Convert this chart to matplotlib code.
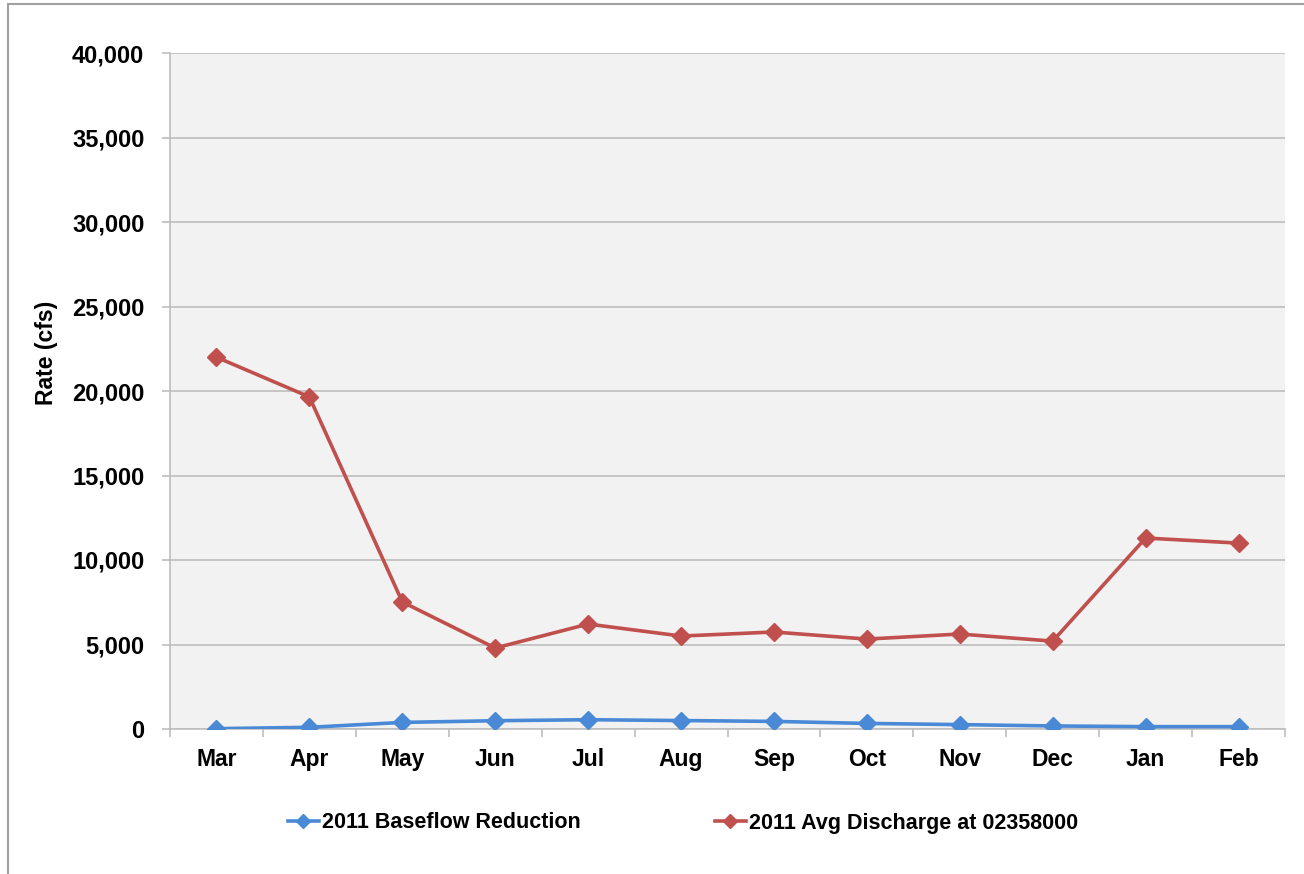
import matplotlib
matplotlib.use("Agg")
import matplotlib.pyplot as plt
from matplotlib.patches import Rectangle
from matplotlib.ticker import FuncFormatter

months = ["Mar", "Apr", "May", "Jun", "Jul", "Aug", "Sep", "Oct", "Nov", "Dec", "Jan", "Feb"]
baseflow_reduction = [20, 100, 390, 490, 550, 500, 450, 330, 260, 180, 140, 140]
avg_discharge = [22000, 19650, 7520, 4790, 6210, 5500, 5740, 5320, 5620, 5200, 11300, 11000]
series_names = ["2011 Baseflow Reduction", "2011 Avg Discharge at 02358000"]
y_ticks = [0, 5000, 10000, 15000, 20000, 25000, 30000, 35000, 40000]

plt.rcParams['font.family'] = ['Liberation Sans', 'DejaVu Sans']
plt.rcParams['font.weight'] = 'bold'

W, H = 1304, 874
fig = plt.figure(figsize=(W / 100, H / 100), dpi=100)
fig.patch.set_facecolor('white')

ax = fig.add_axes([170 / W, 1 - 729 / H, (1285 - 170) / W, (729 - 53) / H])
ax.set_facecolor('#F2F2F2')

x = list(range(len(months)))
blue = '#4A89D6'
red = '#C0504D'
l1, = ax.plot(x, baseflow_reduction, color=blue, lw=2.6, marker='D', ms=9.5,
              markeredgecolor=blue, zorder=3)
l2, = ax.plot(x, avg_discharge, color=red, lw=2.6, marker='D', ms=9.5,
              markeredgecolor=red, zorder=3)

ax.set_xlim(-0.5, len(months) - 0.5)
ax.set_ylim(0, 40000)
ax.set_yticks(y_ticks)
ax.yaxis.set_major_formatter(FuncFormatter(lambda v, p: f"{int(v):,}"))
ax.set_xticks(x)
ax.set_xticklabels(months)
ax.set_xticks([i - 0.5 for i in range(len(months) + 1)], minor=True)

ax.grid(axis='y', color='#BEBEBE', lw=1.2, zorder=1)
ax.set_axisbelow(True)

for s in ['top', 'right']:
    ax.spines[s].set_visible(False)
for s in ['left', 'bottom']:
    ax.spines[s].set_color('#BEBEBE')
    ax.spines[s].set_linewidth(1.2)

ax.tick_params(axis='x', which='major', length=0, pad=14, labelsize=16.5, colors='#000000')
ax.tick_params(axis='x', which='minor', length=6, width=1.2, color='#BEBEBE', direction='out')
ax.tick_params(axis='y', which='major', length=6, width=1.2, color='#BEBEBE', pad=12.5,
               labelsize=17, labelcolor='#000000')
for lbl in ax.get_xticklabels() + ax.get_yticklabels():
    lbl.set_fontweight('bold')

fig.text(46 / W, 1 - 353 / H, "Rate (cfs)", rotation=90, ha='center', va='center',
         fontsize=16.5, fontweight='bold')

leg = fig.legend([l1, l2], series_names, loc='center', ncol=2,
                 bbox_to_anchor=(683 / W, 1 - 823 / H), frameon=False,
                 prop={'size': 15.5, 'weight': 'bold'}, handlelength=1.45,
                 handletextpad=0.15, columnspacing=6.2, markerscale=0.75)

border = Rectangle((8 / W, -0.05), 1.2, 1 - 4 / H + 0.05, transform=fig.transFigure,
                   fill=False, edgecolor='#A0A0A0', lw=1.5)
fig.patches.append(border)

fig.savefig('out.png', dpi=100, facecolor='white')
